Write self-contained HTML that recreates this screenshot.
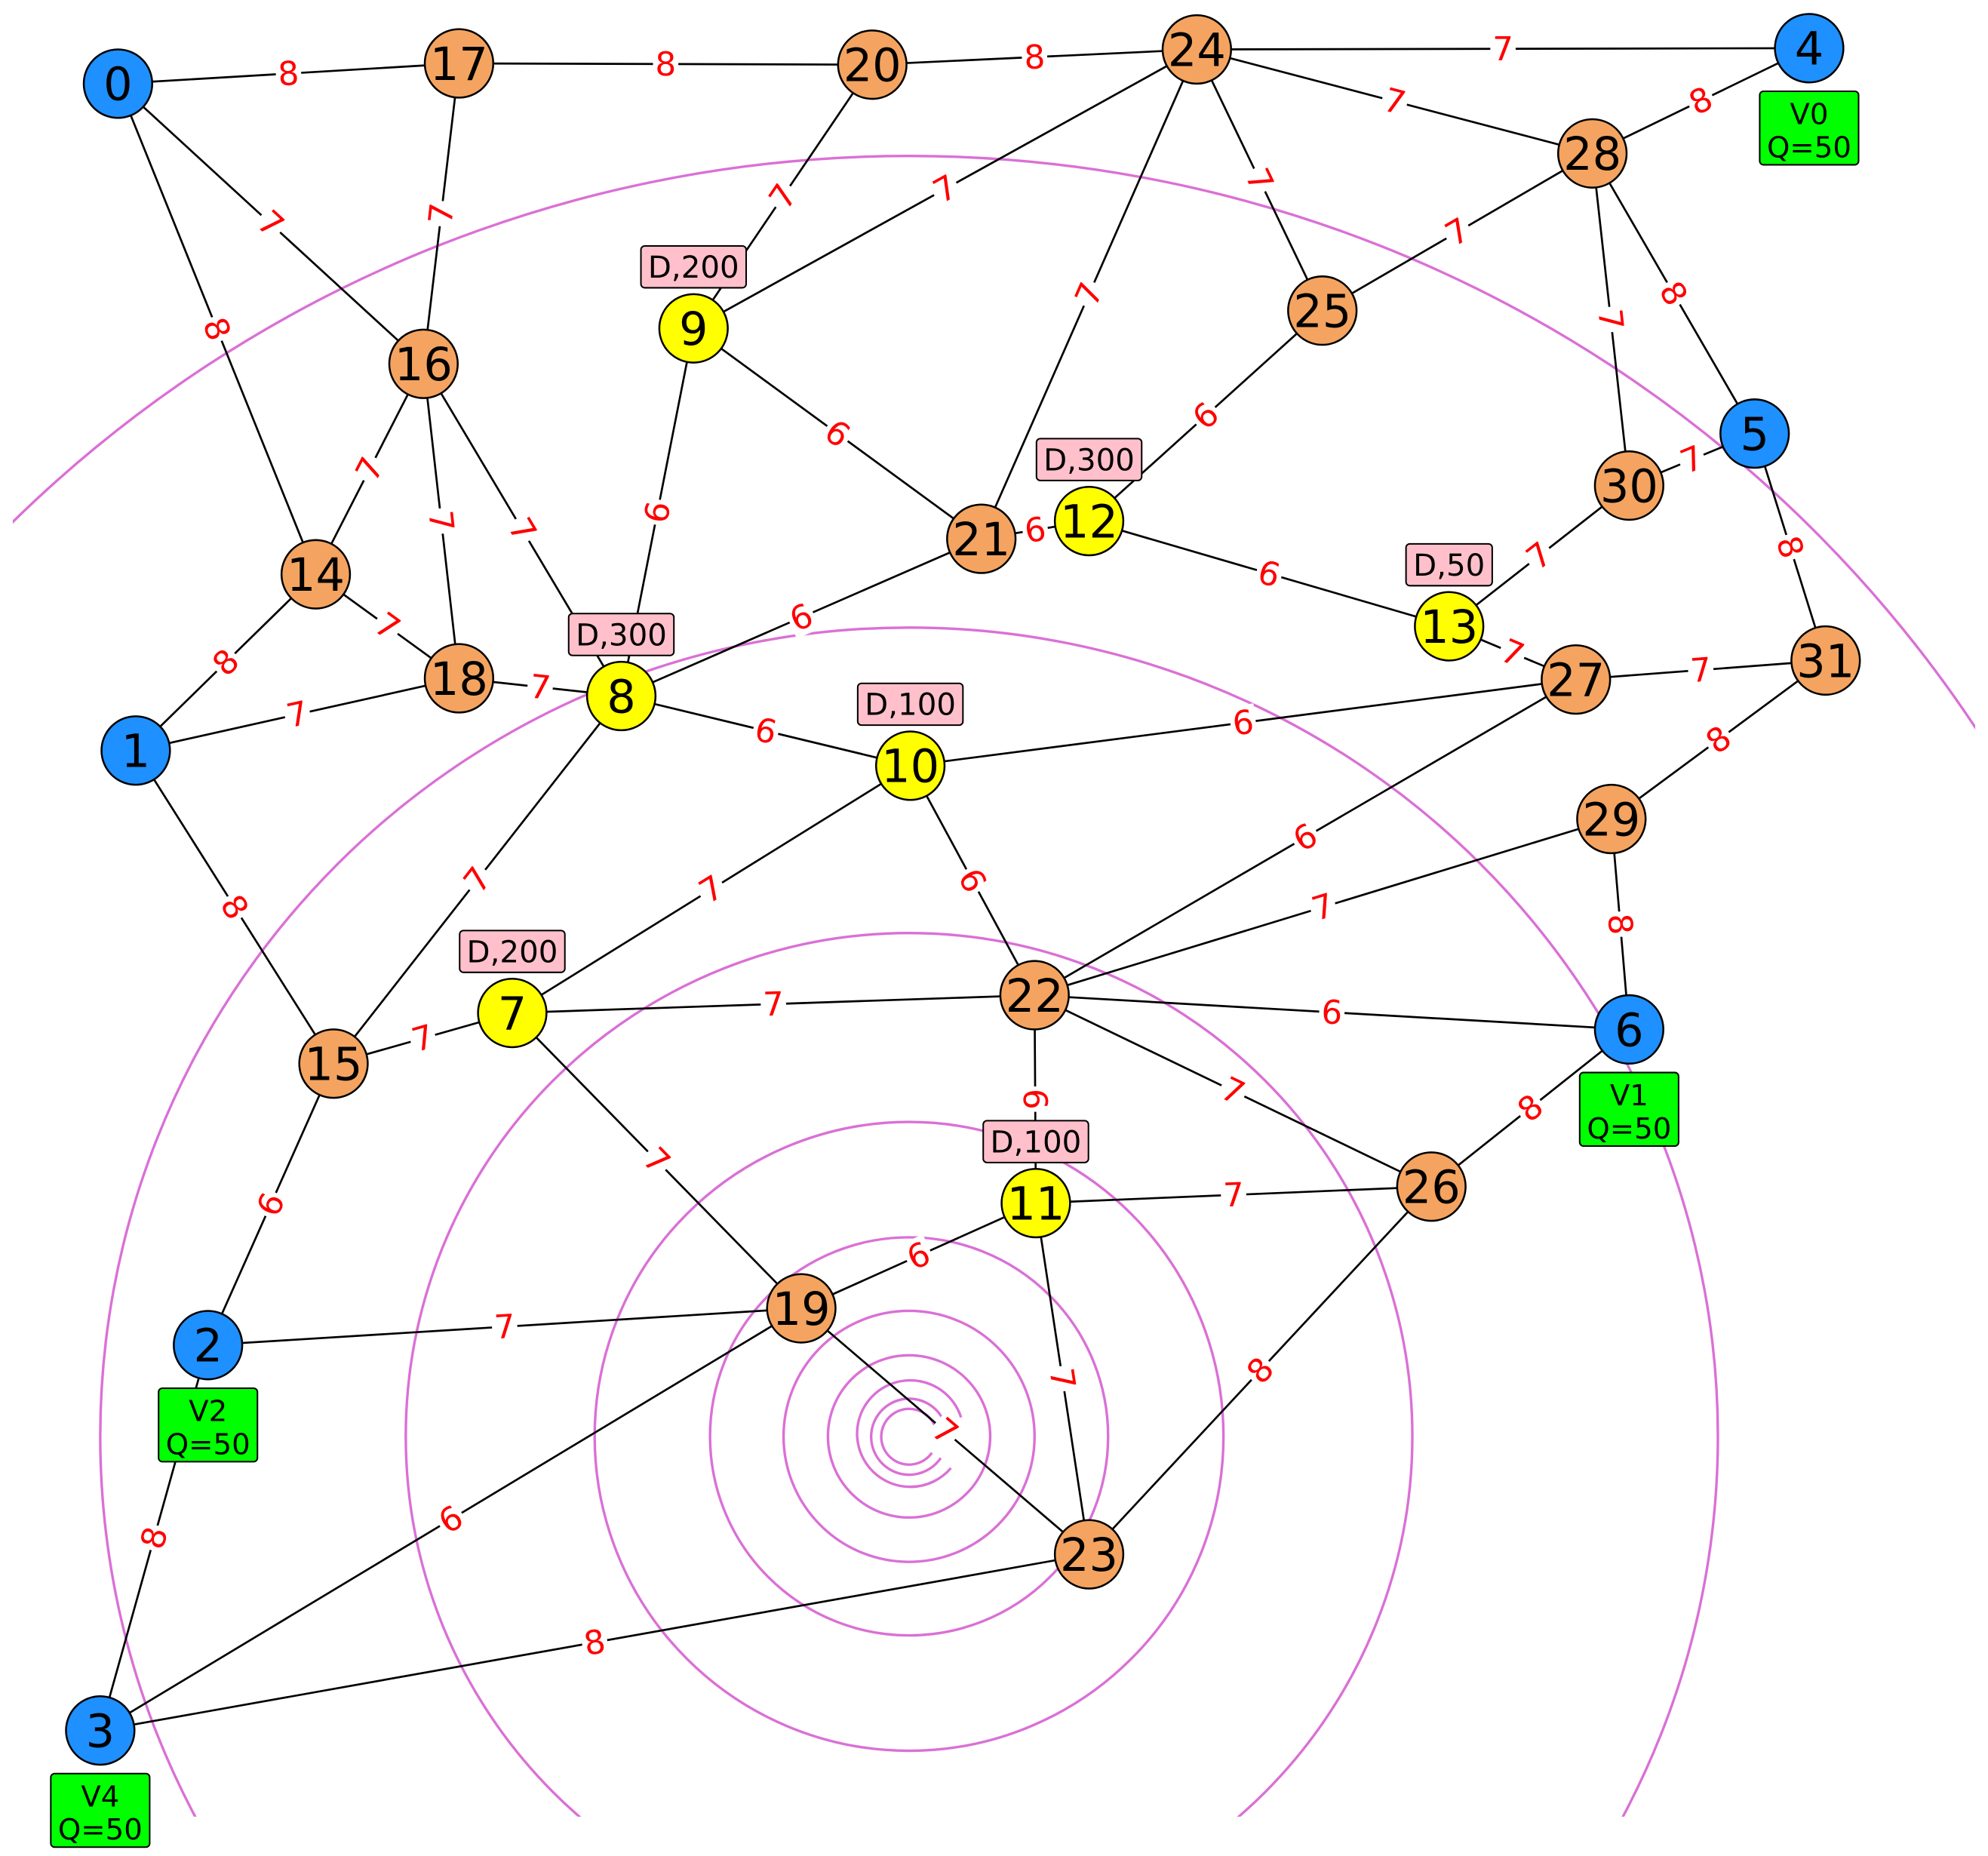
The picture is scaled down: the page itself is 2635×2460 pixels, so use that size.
<!DOCTYPE html>
<html><head><meta charset="utf-8"><style>
html,body{margin:0;padding:0;background:#fff;width:2635px;height:2460px;overflow:hidden;}
svg{display:block;}
</style></head><body>
<svg id="s" width="2635" height="2460" viewBox="0 0 1568 1464" xmlns="http://www.w3.org/2000/svg" font-family="'DejaVu Sans','Liberation Sans',sans-serif">
<defs><clipPath id="c"><rect x="10" y="0" width="1548" height="1433"/></clipPath></defs>
<g clip-path="url(#c)" fill="none" stroke="#da70d6" stroke-width="2">
<circle cx="717" cy="1133" r="1010"/>
<circle cx="717" cy="1133" r="638"/>
<circle cx="717" cy="1133" r="397"/>
<circle cx="717" cy="1133" r="248"/>
<circle cx="717" cy="1133" r="157"/>
<circle cx="717" cy="1133" r="99"/>
<circle cx="717" cy="1133" r="64"/>
<path d="M 758 1118 A 42 42 0 1 0 750 1158"/>
<path d="M 744 1120 A 30 30 0 1 0 742 1150"/>
<path d="M 737 1124 A 22 22 0 1 0 735 1146"/>
</g>
<g id="edges"></g><g id="labels"></g><g id="nodes"></g>
</svg>
<script>
var N={0:[93,66,'b'],17:[362,50,'o'],20:[688,51,'o'],24:[944,39,'o'],4:[1427,38,'b'],28:[1256,121,'o'],16:[334,287,'o'],9:[547,259,'y'],25:[1043,245,'o'],5:[1384,342,'b'],30:[1285,383,'o'],14:[249,453,'o'],21:[774,425,'o'],12:[859,411,'y'],13:[1143,494,'y'],18:[362,535,'o'],8:[490,549,'y'],27:[1243,536,'o'],31:[1440,521,'o'],1:[107,592,'b'],10:[718,604,'y'],29:[1271,646,'o'],22:[816,785,'o'],7:[404,799,'y'],15:[263,839,'o'],6:[1285,812,'b'],26:[1129,936,'o'],11:[817,949,'y'],19:[632,1032,'o'],2:[164,1061,'b'],23:[859,1226,'o'],3:[79,1365,'b']};
var E=[[0,17,8],[17,20,8],[20,24,8],[24,4,7],[24,28,7],[28,4,8],[0,16,7],[0,14,8],[17,16,7],[20,9,7],[24,9,7],[24,21,7],[24,25,7],[25,28,7],[28,30,7],[28,5,8],[16,14,7],[16,18,7],[16,8,7],[9,8,6],[9,21,6],[25,12,6],[30,5,7],[30,13,7],[21,12,6],[12,13,6],[21,8,6],[14,18,7],[14,1,8],[18,8,7],[1,18,7],[13,27,7],[27,31,7],[5,31,8],[31,29,8],[8,10,6],[10,27,6],[1,15,8],[8,15,7],[10,7,7],[10,22,6],[27,22,6],[29,22,7],[29,6,8],[15,7,7],[7,22,7],[22,6,6],[22,26,7],[22,11,6],[6,26,8],[7,19,7],[11,26,7],[11,19,6],[11,23,7],[26,23,8],[19,2,7],[19,23,7],[19,3,6],[15,2,6],[2,3,8],[3,23,8]];
var ns='http://www.w3.org/2000/svg';
function el(t,a,p,txt){var e=document.createElementNS(ns,t);for(var k in a)e.setAttribute(k,a[k]);if(txt!=null)e.textContent=txt;p.appendChild(e);return e;}
var ge=document.getElementById('edges'),gl=document.getElementById('labels'),gn=document.getElementById('nodes');
E.forEach(function(e){var a=N[e[0]],b=N[e[1]];
el('line',{x1:a[0],y1:a[1],x2:b[0],y2:b[1],stroke:'#000','stroke-width':1.6},ge);
var mx=(a[0]+b[0])/2,my=(a[1]+b[1])/2,ang=Math.atan2(b[1]-a[1],b[0]-a[0])*180/Math.PI;
if(ang>90)ang-=180;if(ang<=-90)ang+=180;
var g=el('g',{transform:'translate('+mx+','+my+') rotate('+ang+')'},gl);
el('rect',{x:-10,y:-14,width:20,height:28,fill:'#fff'},g);
el('text',{x:0,y:9,'text-anchor':'middle','font-size':26,fill:'#ff0000'},g,String(e[2]));});
var col={b:'#1e90ff',o:'#f4a460',y:'#ffff00'};
for(var k in N){var n=N[k];
el('circle',{cx:n[0],cy:n[1],r:27,fill:col[n[2]],stroke:'#000','stroke-width':1.5},gn);
el('text',{x:n[0],y:n[1]+13,'text-anchor':'middle','font-size':36,fill:'#000'},gn,k);}
var D=[[9,'D,200'],[8,'D,300'],[12,'D,300'],[13,'D,50'],[10,'D,100'],[7,'D,200'],[11,'D,100']];
D.forEach(function(d){var n=N[d[0]],w=d[1].length*15+8;
el('rect',{x:n[0]-w/2,y:n[1]-65,width:w,height:33,rx:3,fill:'#ffc0cb',stroke:'#000','stroke-width':1.2},gn);
el('text',{x:n[0],y:n[1]-40,'text-anchor':'middle','font-size':24,fill:'#000'},gn,d[1]);});
var V=[[4,'V0'],[6,'V1'],[2,'V2'],[3,'V4']];
V.forEach(function(v){var n=N[v[0]];
el('rect',{x:n[0]-39,y:n[1]+34,width:78,height:58,rx:3,fill:'#00ff00',stroke:'#000','stroke-width':1.2},gn);
el('text',{x:n[0],y:n[1]+60,'text-anchor':'middle','font-size':23,fill:'#000'},gn,v[1]);
el('text',{x:n[0],y:n[1]+86,'text-anchor':'middle','font-size':23,fill:'#000'},gn,'Q=50');});
</script>
</body></html>
